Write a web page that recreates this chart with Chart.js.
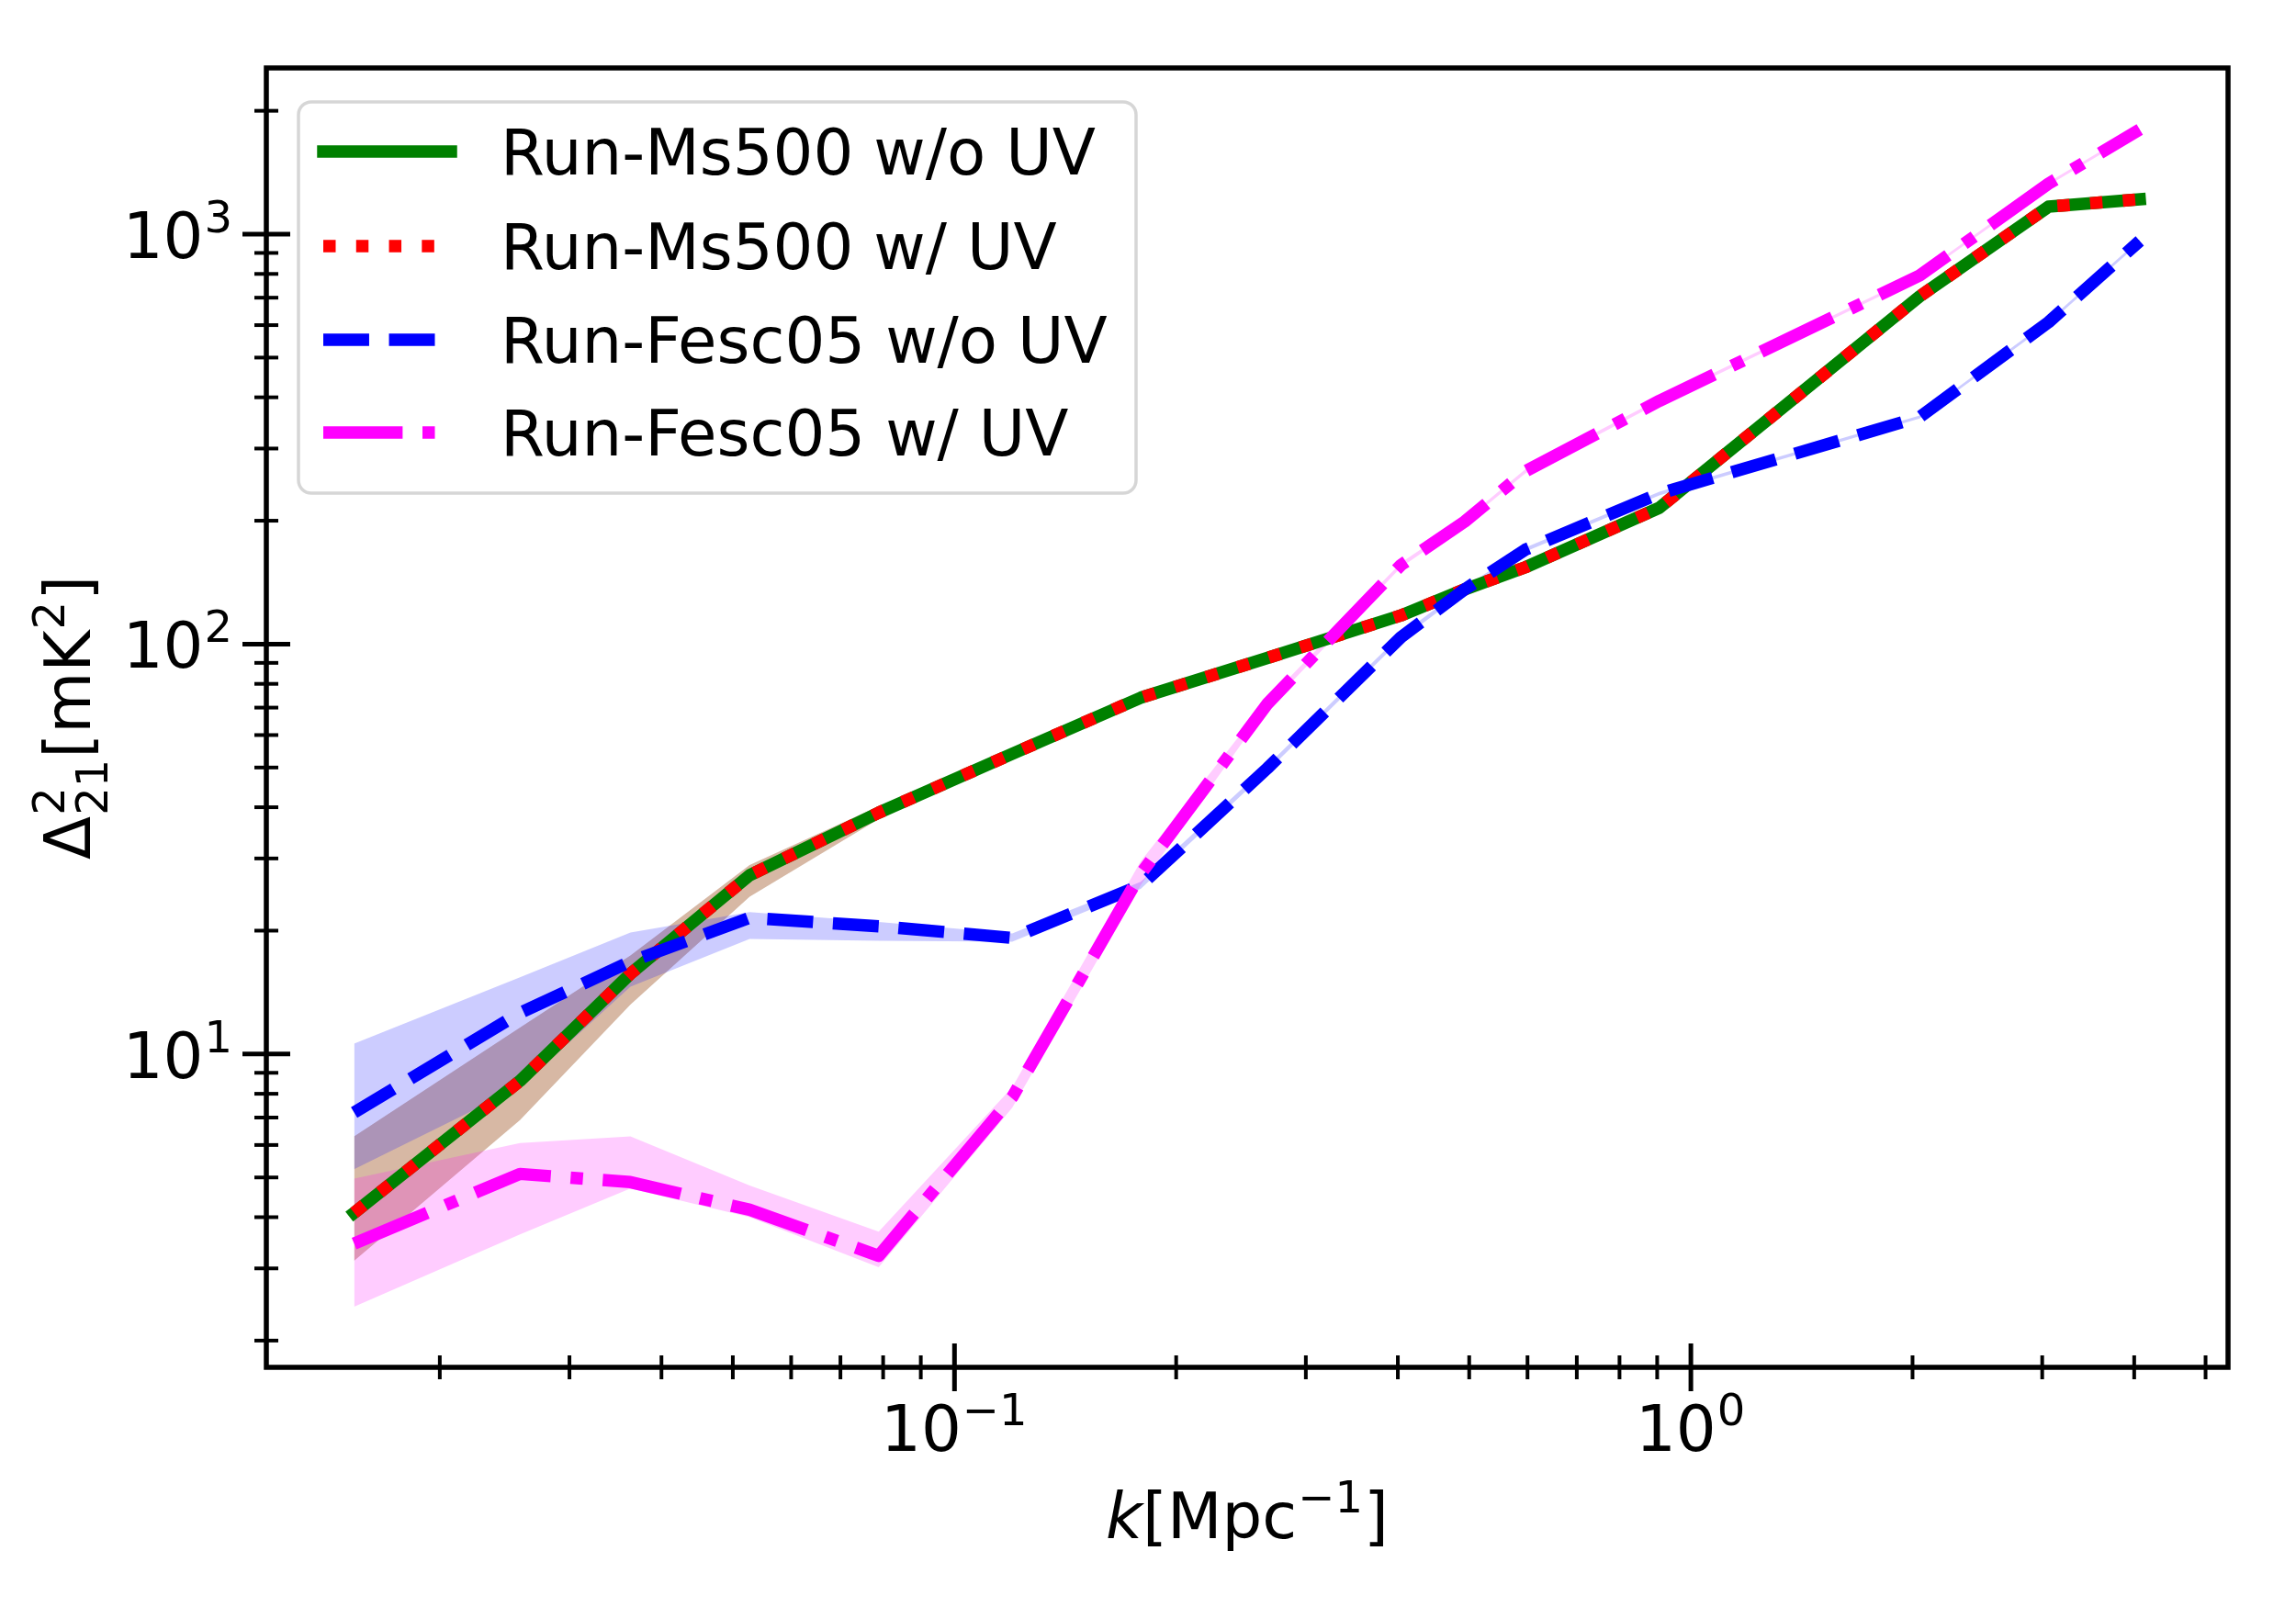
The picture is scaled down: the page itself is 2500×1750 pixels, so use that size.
<!DOCTYPE html>
<html>
<head>
<meta charset="utf-8">
<title>21cm power spectrum</title>
<script src="https://cdn.jsdelivr.net/npm/chart.js@4.4.1/dist/chart.umd.min.js"></script>
<style>
  html, body { margin: 0; padding: 0; background: #fff; }
  #wrap { width: 2500px; height: 1750px; }
</style>
</head>
<body>
<div id="wrap"><canvas id="psChart" width="2500" height="1750"></canvas></div>
<script>
/* --- DATA --- */
const K_VALUES = [0.0153, 0.0257, 0.0363, 0.0527, 0.0789, 0.1198, 0.179, 0.266, 0.404, 0.493, 0.596, 0.906, 2.045, 3.06, 4.07];

const MS500_NOUV = [4.1, 8.6, 15.7, 27.3, 38.8, 54, 74, 92.5, 117.5, 136, 154, 215, 705, 1167, 1217];
const MS500_UV   = [4.1, 8.6, 15.7, 27.3, 38.8, 54, 74, 92.5, 117.5, 136, 154, 215, 705, 1167, 1217];
const FESC_NOUV  = [7.2, 12.6, 16.8, 21.5, 20.5, 19.2, 25.8, 49.8, 104, 136, 170, 233, 358, 610, 963];
const FESC_UV    = [3.45, 5.1, 4.87, 4.17, 3.22, 7.85, 27.5, 71.5, 156, 199, 264, 392, 793, 1328, 1800];

// shaded scatter between realisations (upper / lower edge)
const MS500_HI     = [6.3, 11.6, 17.4, 28.9, 40.2, 55.2, 75.2, 93.6, 118.6, 137.2, 155.4, 217, 711, 1176, 1226];
const MS500_LO     = [3.13, 6.9, 13.2, 24.2, 37.4, 52.9, 72.9, 91.4, 116.4, 134.8, 152.6, 213, 699, 1158, 1208];
const FESC_NOUV_HI = [10.6, 15.4, 19.8, 22.2, 21.0, 19.7, 26.3, 50.6, 105.5, 137.8, 172, 235.5, 361, 616, 972];
const FESC_NOUV_LO = [5.24, 8.3, 14.6, 19.1, 18.9, 18.8, 25.3, 49.0, 102.6, 134.2, 168, 230.5, 355, 604, 954];
const FESC_UV_HI   = [4.97, 6.07, 6.3, 4.78, 3.69, 8.3, 29.5, 73, 158, 201, 267, 396, 800, 1340, 1815];
const FESC_UV_LO   = [2.42, 3.63, 4.7, 4.0, 3.02, 7.4, 25.8, 70, 154, 197, 261, 388, 786, 1316, 1785];

const LABELS = ['Run-Ms500 w/o UV', 'Run-Ms500 w/ UV', 'Run-Fesc05 w/o UV', 'Run-Fesc05 w/ UV'];

const X_MAJOR = [0.1, 1];
const X_MINOR = [0.02, 0.03, 0.04, 0.05, 0.06, 0.07, 0.08, 0.09, 0.2, 0.3, 0.4, 0.5, 0.6, 0.7, 0.8, 0.9, 2, 3, 4, 5];
const X_TICK_LABELS = [['10', '\u22121'], ['10', '0']];
const Y_MAJOR = [10, 100, 1000];
const Y_MINOR = [2, 3, 4, 5, 6, 7, 8, 9, 20, 30, 40, 50, 60, 70, 80, 90, 200, 300, 400, 500, 600, 700, 800, 900, 2000];
const Y_TICK_LABELS = [['10', '1'], ['10', '2'], ['10', '3']];

/* --- STYLE --- */
const LW = 13.5;
const FONT = '"DejaVu Sans", "Liberation Sans", sans-serif';
const F_MAIN = 69;
const F_SMALL = 48;
const SUP_RISE = 28;
const SUB_DROP = 19;

const pts = (ys) => K_VALUES.map((k, i) => ({ x: k, y: ys[i] }));

function band(hi, lo, color, order) {
  return [
    { data: pts(hi), fill: '+1', backgroundColor: color, borderWidth: 0, pointRadius: 0, order: order },
    { data: pts(lo), fill: false, borderWidth: 0, pointRadius: 0, order: order }
  ];
}

function line(ys, color, dash, cap, order) {
  return {
    data: pts(ys), fill: false, borderColor: color, borderWidth: LW,
    borderDash: dash, borderCapStyle: cap, borderJoinStyle: 'round',
    pointRadius: 0, tension: 0, order: order
  };
}

const DASH_DOT = [LW * 1, LW * 1.65];
const DASH_DASH = [LW * 3.7, LW * 1.6];
const DASH_DASHDOT = [LW * 6.4, LW * 1.6, LW * 1, LW * 1.6];

const SERIES = [
  { label: LABELS[0], color: '#008000', dash: [], cap: 'square' },
  { label: LABELS[1], color: '#ff0000', dash: DASH_DOT, cap: 'butt' },
  { label: LABELS[2], color: '#0000ff', dash: DASH_DASH, cap: 'butt' },
  { label: LABELS[3], color: '#ff00ff', dash: DASH_DASHDOT, cap: 'butt' }
];

/* --- TEXT HELPERS --- */
// parts: [{t, sup, sub}] -- sup/sub glyphs placed after the previous main glyph
function mathWidth(ctx, parts) {
  let w = 0;
  let i = 0;
  while (i < parts.length) {
    const p = parts[i];
    if (p.sup || p.sub) {
      // sup + sub stacked at the same place
      let wmax = 0;
      while (i < parts.length && (parts[i].sup || parts[i].sub)) {
        ctx.font = `${F_SMALL}px ${FONT}`;
        wmax = Math.max(wmax, ctx.measureText(parts[i].t).width);
        i++;
      }
      w += wmax + 2;
    } else {
      ctx.font = `${p.italic ? 'italic ' : ''}${F_MAIN}px ${FONT}`;
      w += ctx.measureText(p.t).width;
      i++;
    }
  }
  return w;
}

function drawMath(ctx, parts, x, y, align) {
  const total = mathWidth(ctx, parts);
  let cx = x;
  if (align === 'center') cx = x - total / 2;
  if (align === 'right') cx = x - total;
  ctx.textAlign = 'left';
  ctx.textBaseline = 'alphabetic';
  let i = 0;
  while (i < parts.length) {
    const p = parts[i];
    if (p.sup || p.sub) {
      let wmax = 0;
      while (i < parts.length && (parts[i].sup || parts[i].sub)) {
        const q = parts[i];
        ctx.font = `${F_SMALL}px ${FONT}`;
        ctx.fillText(q.t, cx + 1, q.sup ? y - SUP_RISE : y + SUB_DROP);
        wmax = Math.max(wmax, ctx.measureText(q.t).width);
        i++;
      }
      cx += wmax + 2;
    } else {
      ctx.font = `${p.italic ? 'italic ' : ''}${F_MAIN}px ${FONT}`;
      ctx.fillText(p.t, cx, y);
      cx += ctx.measureText(p.t).width;
      i++;
    }
  }
}

/* --- PLUGINS --- */
const axesPlugin = {
  id: 'mplAxes',
  afterDatasetsDraw(chart) {
    const { ctx, chartArea: a, scales } = chart;
    const xs = scales.x, ys = scales.y;
    ctx.save();
    ctx.strokeStyle = '#000';
    ctx.fillStyle = '#000';

    // ticks, direction in/out
    const tick = (x1, y1, x2, y2, w) => {
      ctx.lineWidth = w;
      ctx.beginPath(); ctx.moveTo(x1, y1); ctx.lineTo(x2, y2); ctx.stroke();
    };
    X_MINOR.forEach(v => { const px = xs.getPixelForValue(v); tick(px, a.bottom - 13, px, a.bottom + 13, 4); });
    X_MAJOR.forEach(v => { const px = xs.getPixelForValue(v); tick(px, a.bottom - 26, px, a.bottom + 26, 5); });
    Y_MINOR.forEach(v => { const py = ys.getPixelForValue(v); tick(a.left - 13, py, a.left + 13, py, 4); });
    Y_MAJOR.forEach(v => { const py = ys.getPixelForValue(v); tick(a.left - 26, py, a.left + 26, py, 5); });

    // spines
    ctx.lineWidth = 5.5;
    ctx.strokeRect(a.left, a.top, a.right - a.left, a.bottom - a.top);

    // tick labels
    X_MAJOR.forEach((v, i) => {
      const [base, exp] = X_TICK_LABELS[i];
      drawMath(ctx, [{ t: base }, { t: exp, sup: true }], xs.getPixelForValue(v), a.bottom + 91, 'center');
    });
    Y_MAJOR.forEach((v, i) => {
      const [base, exp] = Y_TICK_LABELS[i];
      drawMath(ctx, [{ t: base }, { t: exp, sup: true }], a.left - 36, ys.getPixelForValue(v) + 26, 'right');
    });

    // axis titles
    drawMath(ctx, [{ t: 'k', italic: true }, { t: '[Mpc' }, { t: '\u22121', sup: true }, { t: ']' }],
      (a.left + a.right) / 2, 1675, 'center');

    ctx.save();
    ctx.translate(98, (a.top + a.bottom) / 2);
    ctx.rotate(-Math.PI / 2);
    drawMath(ctx, [{ t: '\u0394' }, { t: '2', sup: true }, { t: '21', sub: true }, { t: '[mK' }, { t: '2', sup: true }, { t: ']' }],
      0, 0, 'center');
    ctx.restore();
    ctx.restore();
  }
};

const legendPlugin = {
  id: 'mplLegend',
  afterDraw(chart) {
    const ctx = chart.ctx;
    const box = { x: 325, y: 111, w: 912, h: 426, r: 14 };
    const rowY = [165, 268, 370, 471];
    ctx.save();
    ctx.beginPath();
    ctx.roundRect(box.x, box.y, box.w, box.h, box.r);
    ctx.fillStyle = 'rgba(255,255,255,0.8)';
    ctx.fill();
    ctx.lineWidth = 3.5;
    ctx.strokeStyle = 'rgba(204,204,204,0.8)';
    ctx.stroke();

    SERIES.forEach((s, i) => {
      ctx.beginPath();
      ctx.setLineDash(s.dash);
      ctx.lineDashOffset = 0;
      ctx.lineCap = s.cap;
      ctx.lineWidth = LW;
      ctx.strokeStyle = s.color;
      ctx.moveTo(352, rowY[i]);
      ctx.lineTo(491, rowY[i]);
      ctx.stroke();
      ctx.setLineDash([]);
      ctx.fillStyle = '#000';
      ctx.font = `${F_MAIN}px ${FONT}`;
      ctx.textAlign = 'left';
      ctx.textBaseline = 'alphabetic';
      ctx.fillText(s.label, 545, rowY[i] + 25);
    });
    ctx.restore();
  }
};

/* --- CHART --- */
function initChart() {
  const datasets = [
    line(FESC_UV, SERIES[3].color, SERIES[3].dash, SERIES[3].cap, 1),
    line(FESC_NOUV, SERIES[2].color, SERIES[2].dash, SERIES[2].cap, 2),
    line(MS500_UV, SERIES[1].color, SERIES[1].dash, SERIES[1].cap, 3),
    line(MS500_NOUV, SERIES[0].color, SERIES[0].dash, SERIES[0].cap, 4),
    ...band(MS500_HI, MS500_LO, 'rgba(0,128,0,0.2)', 14),
    ...band(MS500_HI, MS500_LO, 'rgba(255,0,0,0.2)', 13),
    ...band(FESC_NOUV_HI, FESC_NOUV_LO, 'rgba(0,0,255,0.2)', 12),
    ...band(FESC_UV_HI, FESC_UV_LO, 'rgba(255,0,255,0.2)', 11)
  ];

  new Chart(document.getElementById('psChart').getContext('2d'), {
    type: 'line',
    data: { datasets },
    options: {
      responsive: false,
      animation: false,
      devicePixelRatio: 1,
      layout: { padding: { left: 290, top: 74, right: 74, bottom: 261 } },
      plugins: { legend: { display: false }, tooltip: { enabled: false } },
      scales: {
        x: { type: 'logarithmic', min: 0.011627, max: 5.364, display: false },
        y: { type: 'logarithmic', min: 1.721, max: 2544, display: false }
      }
    },
    plugins: [axesPlugin, legendPlugin]
  });
}

document.addEventListener('DOMContentLoaded', initChart);
</script>
</body>
</html>
